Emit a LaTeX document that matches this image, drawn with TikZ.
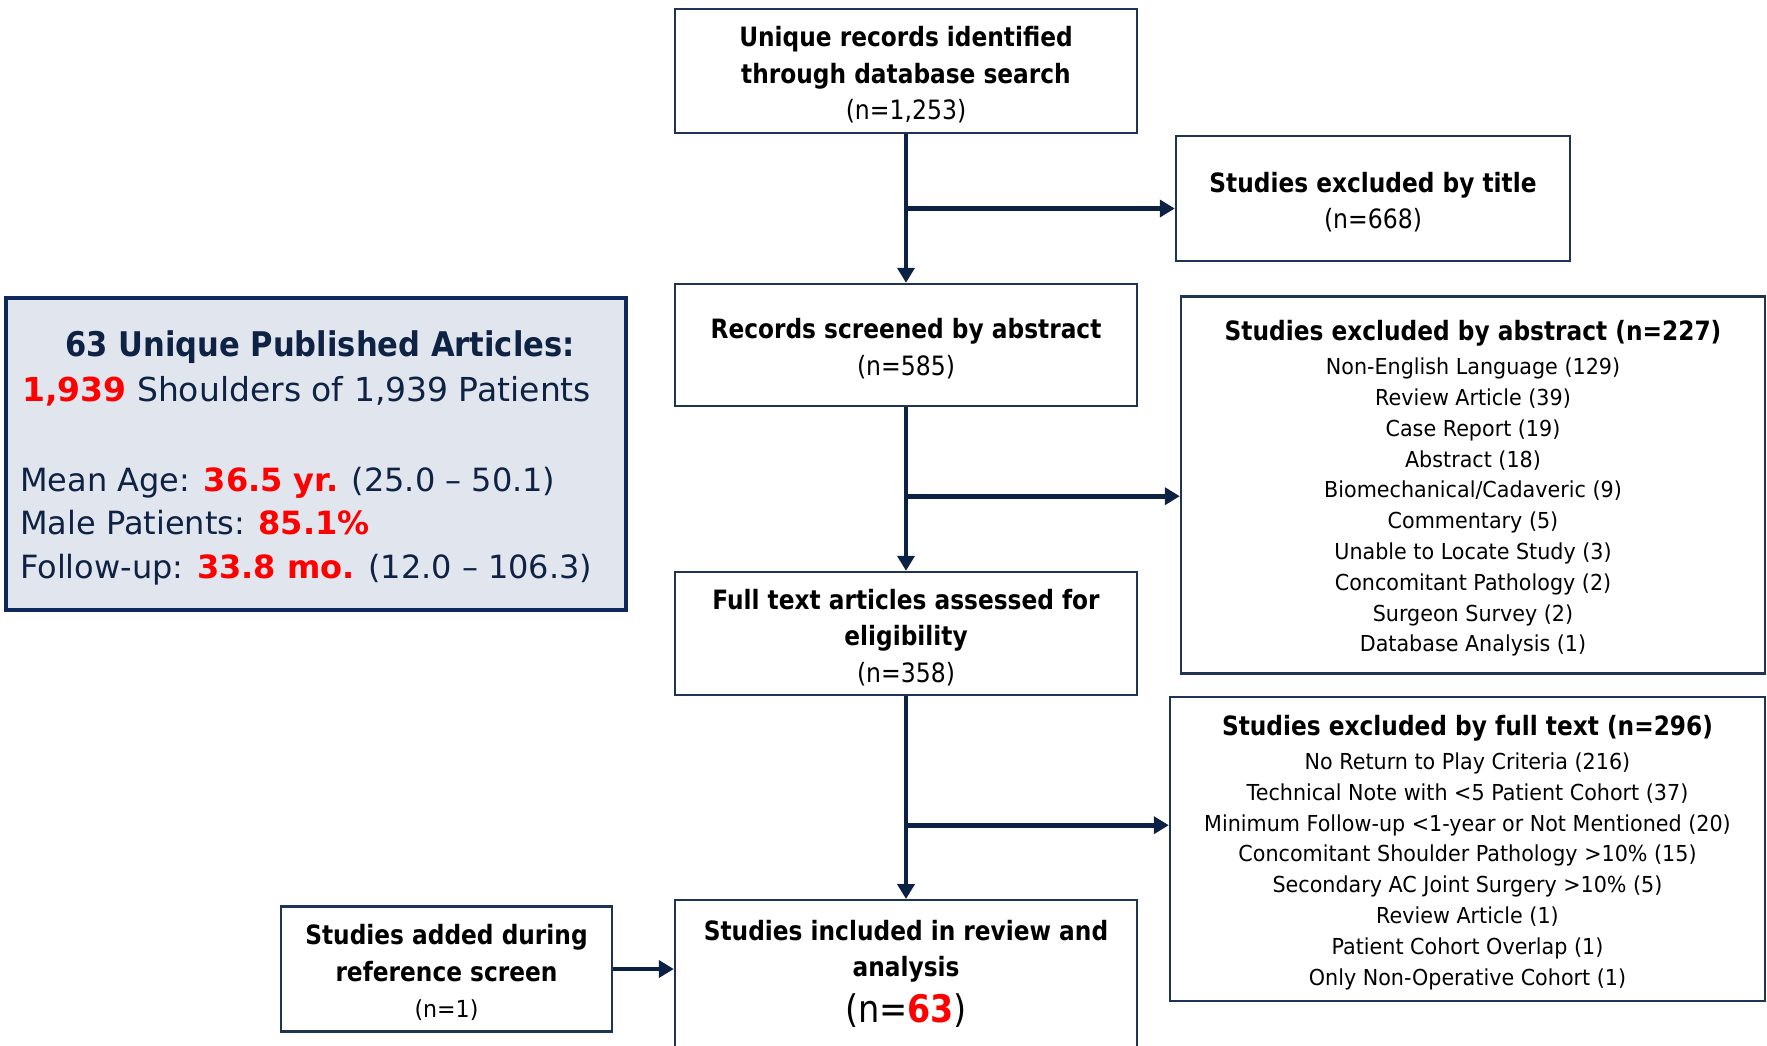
\documentclass[tikz,border=0pt]{standalone}
\usepackage{fontspec}
\setmainfont{DejaVu Sans}[FakeStretch=0.885,BoldFeatures={FakeStretch=0.875}]
\newfontfamily\itemfont{DejaVu Sans}[FakeStretch=0.94]
\newfontfamily\lbfont{DejaVu Sans}
\newfontfamily\lbtitlefont{DejaVu Sans}[FakeStretch=0.9,BoldFeatures={FakeStretch=0.9}]
\usetikzlibrary{arrows.meta,calc}
\definecolor{navy}{HTML}{0B2244}
\definecolor{boxline}{HTML}{1F3352}
\definecolor{lbfill}{HTML}{E1E6EE}
\definecolor{lbline}{HTML}{10295C}
\definecolor{lbtext}{HTML}{0E2244}
\definecolor{hired}{HTML}{FF0000}
\newcommand{\fbig}{\fontsize{26.6}{36.5}\selectfont}
\newcommand{\fsmall}{\itemfont\fontsize{22}{30.8}\selectfont}
\newcommand{\fhead}{\rmfamily\bfseries\fontsize{26.6}{36.5}\selectfont}
\newcommand{\flbt}{\lbtitlefont\fontsize{34}{45}\selectfont}
\newcommand{\flb}{\lbfont\fontsize{33}{45}\selectfont}
\newcommand{\flbs}{\lbfont\fontsize{32}{43.5}\selectfont}
\newcommand{\tstrut}{\rule{0pt}{27.5pt}}
\tikzset{
  flowbox/.style={draw=boxline, line width=2.4pt, fill=white, inner sep=0pt, align=center, text=black, font=\fbig},
  exbox/.style={flowbox, font=\fsmall},
  conn/.style={draw=navy, line width=4.6pt, -{Triangle[width=17pt,length=15pt]}},
  lbtxt/.style={text=lbtext, inner sep=0pt},
}
\begin{document}
\begin{tikzpicture}[x=1pt,y=-1pt]
\useasboundingbox (0,0) rectangle (1767,1045);
\clip (0,0) rectangle (1767,1045);
\fill[white] (0,0) rectangle (1767,1045);

% main flow
\node[flowbox, minimum width=462, minimum height=124] (top) at (906,71)
  {\tstrut\bfseries Unique records identified\\\bfseries through database search\\(n=1,253)};
\node[flowbox, minimum width=394, minimum height=125] (title) at (1373,198.5)
  {\tstrut\bfseries Studies excluded by title\\(n=668)};
\node[flowbox, minimum width=462, minimum height=122] (rec) at (906,345)
  {\tstrut\bfseries Records screened by abstract\\(n=585)};
\node[exbox, minimum width=584, minimum height=377] (abs) at (1473,485)
  {\tstrut\fhead Studies excluded by abstract (n=227)\\[3pt]
   Non-English Language (129)\\Review Article (39)\\Case Report (19)\\
   Abstract (18)\\Biomechanical/Cadaveric (9)\\Commentary (5)\\
   Unable to Locate Study (3)\\Concomitant Pathology (2)\\
   Surgeon Survey (2)\\Database Analysis (1)};
\node[flowbox, minimum width=462, minimum height=123] (full) at (906,633.5)
  {\tstrut\bfseries Full text articles assessed for\\\bfseries eligibility\\(n=358)};
\node[exbox, minimum width=595, minimum height=304] (fex) at (1467.5,849)
  {\tstrut\fhead Studies excluded by full text (n=296)\\[3pt]
   No Return to Play Criteria (216)\\
   Technical Note with <5 Patient Cohort (37)\\
   Minimum Follow-up <1-year or Not Mentioned (20)\\
   Concomitant Shoulder Pathology >10\% (15)\\
   Secondary AC Joint Surgery >10\% (5)\\
   Review Article (1)\\Patient Cohort Overlap (1)\\
   Only Non-Operative Cohort (1)};
\node[flowbox, minimum width=462, minimum height=170, anchor=north] (inc) at (906,899) {};
\node[align=center, inner sep=0pt, font=\fbig] (inctext) at (906,973.5)
  {\bfseries Studies included in review and\\\bfseries analysis\\[9pt]
   \fontsize{38}{42}\selectfont (n={\bfseries\color{hired}63})};
\node[flowbox, minimum width=331, minimum height=125] (add) at (446.5,969)
  {\rule{0pt}{28pt}\bfseries Studies added during\\\bfseries reference screen\\\itemfont\fontsize{23.5}{30}\selectfont (n=1)};

% left summary box
\node[draw=lbline, line width=4pt, fill=lbfill, minimum width=620, minimum height=312, inner sep=0pt] (lb) at (316,454) {};
\node[lbtxt, anchor=base] (lb1) at (320,356) {\flbt\bfseries 63 Unique Published Articles:};
\node[lbtxt, anchor=base west] (lb2) at (22,401) {\flb{\bfseries\color{hired}1,939} Shoulders of 1,939 Patients};
\node[lbtxt, anchor=base west] (lb3) at (20,491) {\flbs Mean Age: {\bfseries\color{hired}36.5 yr.} (25.0 – 50.1)};
\node[lbtxt, anchor=base west] (lb4) at (20,534.5) {\flbs Male Patients: {\bfseries\color{hired}85.1\%}};
\node[lbtxt, anchor=base west] (lb5) at (20,578) {\flbs Follow-up: {\bfseries\color{hired}33.8 mo.} (12.0 – 106.3)};

% connectors
\coordinate (j1) at ($(top.south)!0.5!(rec.north)$);
\coordinate (j2) at ($(rec.south)+(0,89)$);
\coordinate (j3) at ($(full.south)+(0,129)$);
\draw[conn] (top.south) -- (rec.north);
\draw[conn] (j1) -- (j1 -| title.west);
\draw[conn] (rec.south) -- (full.north);
\draw[conn] (j2) -- (j2 -| abs.west);
\draw[conn] (full.south) -- (inc.north);
\draw[conn] (j3) -- (j3 -| fex.west);
\draw[conn] (add.east) -- (add.east -| inc.west);
\end{tikzpicture}
\end{document}
